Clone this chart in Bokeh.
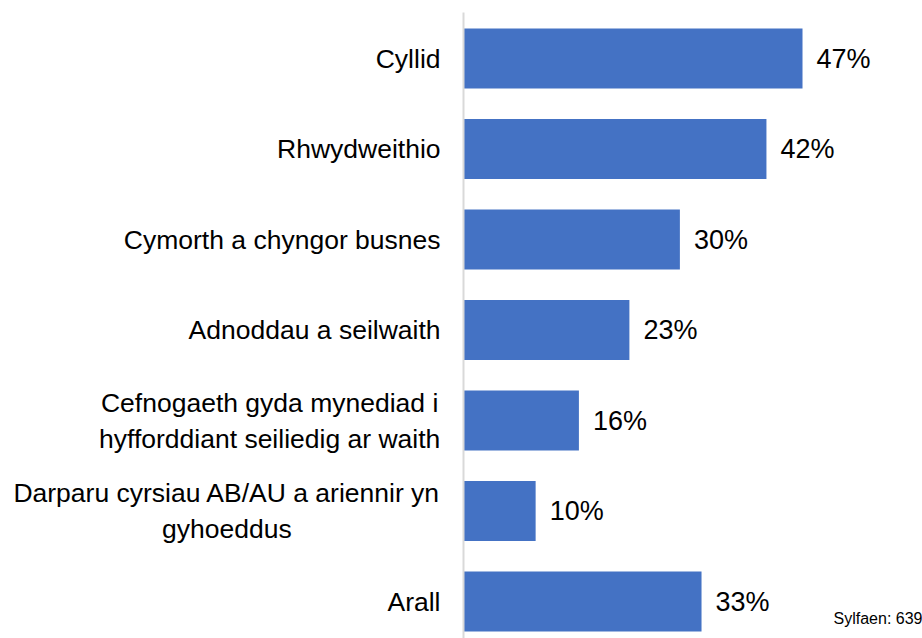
from bokeh.plotting import figure
from bokeh.models import Range1d, ColumnDataSource, Label
from bokeh.embed import file_html
from bokeh.resources import INLINE
from bokeh.core.properties import value
import numpy as np

categories = [
    "Cyllid",
    "Rhwydweithio",
    "Cymorth a chyngor busnes",
    "Adnoddau a seilwaith",
    "Cefnogaeth gyda mynediad i\nhyfforddiant seiliedig ar waith",
    "Darparu cyrsiau AB/AU a ariennir yn\ngyhoeddus",
    "Arall",
]
values = [47, 42, 30, 23, 16, 10, 33]
value_labels = [f"{v}%" for v in values]
source_note = "Sylfaen: 639"

FONT = "Liberation Sans"
CAT_SIZE = 26.5
PX_PER_UNIT = 7.213       # horizontal scale: pixels per percentage point
ROW_PX = 90.5             # vertical scale: pixels per category row

# Arial / Liberation Sans advance widths (em) used to centre multi-line labels
W = dict(a=.556, b=.556, c=.5, d=.556, e=.556, f=.278, g=.556, h=.556, i=.222,
         j=.222, k=.5, l=.222, m=.833, n=.556, o=.556, p=.556, q=.556, r=.333,
         s=.5, t=.278, u=.556, v=.5, w=.722, x=.5, y=.5, z=.5)
W.update({" ": .278, "/": .278, "A": .667, "B": .667, "C": .722, "D": .722,
          "R": .722, "U": .722})


def text_width(s):
    return max(sum(W.get(ch, .556) for ch in line) for line in s.split("\n")) * CAT_SIZE


pos = np.arange(len(categories))
gap_px = 23
label_x = [-(gap_px + text_width(c) / 2) / PX_PER_UNIT for c in categories]

src = ColumnDataSource(dict(y=pos, v=values, lab=value_labels,
                            cat=categories, cx=label_x, zero=[0] * len(values)))

WIDTH, HEIGHT = 922, 638
axis_px = 463
x_start = -axis_px / PX_PER_UNIT
x_end = (WIDTH - axis_px) / PX_PER_UNIT
first_px = 58
y_top = -first_px / ROW_PX
y_bottom = (HEIGHT - first_px) / ROW_PX

p = figure(
    width=WIDTH, height=HEIGHT,
    output_backend="svg", toolbar_location=None,
    x_range=Range1d(x_start, x_end),
    y_range=Range1d(y_bottom, y_top),
    min_border=0,
)
p.outline_line_color = None
p.grid.visible = False
p.xaxis.visible = False
p.yaxis.visible = False

p.hbar(y="y", right="v", left="zero", height=0.663, source=src,
       fill_color="#4472C4", line_color=None)

# vertical category axis line
p.segment(x0=[0], y0=[y_top + 12 / ROW_PX], x1=[0], y1=[y_bottom],
          line_color="#D9D9D9", line_width=2)

p.text(x="v", y="y", text="lab", source=src, x_offset=14,
       text_baseline="middle", text_align="left",
       text_font=value(FONT), text_font_size="27px", text_color="#000000")

p.text(x="cx", y="y", text="cat", source=src,
       text_baseline="middle", text_align="center", text_line_height=1.2,
       text_font=value(FONT), text_font_size=f"{CAT_SIZE}px", text_color="#000000")

p.add_layout(Label(x=x_end, y=(618 - first_px) / ROW_PX, text=source_note,
                   text_align="right", text_baseline="alphabetic",
                   text_font=FONT, text_font_size="16px", text_color="#000000"))

open("out.html", "w").write(file_html(p, INLINE))
